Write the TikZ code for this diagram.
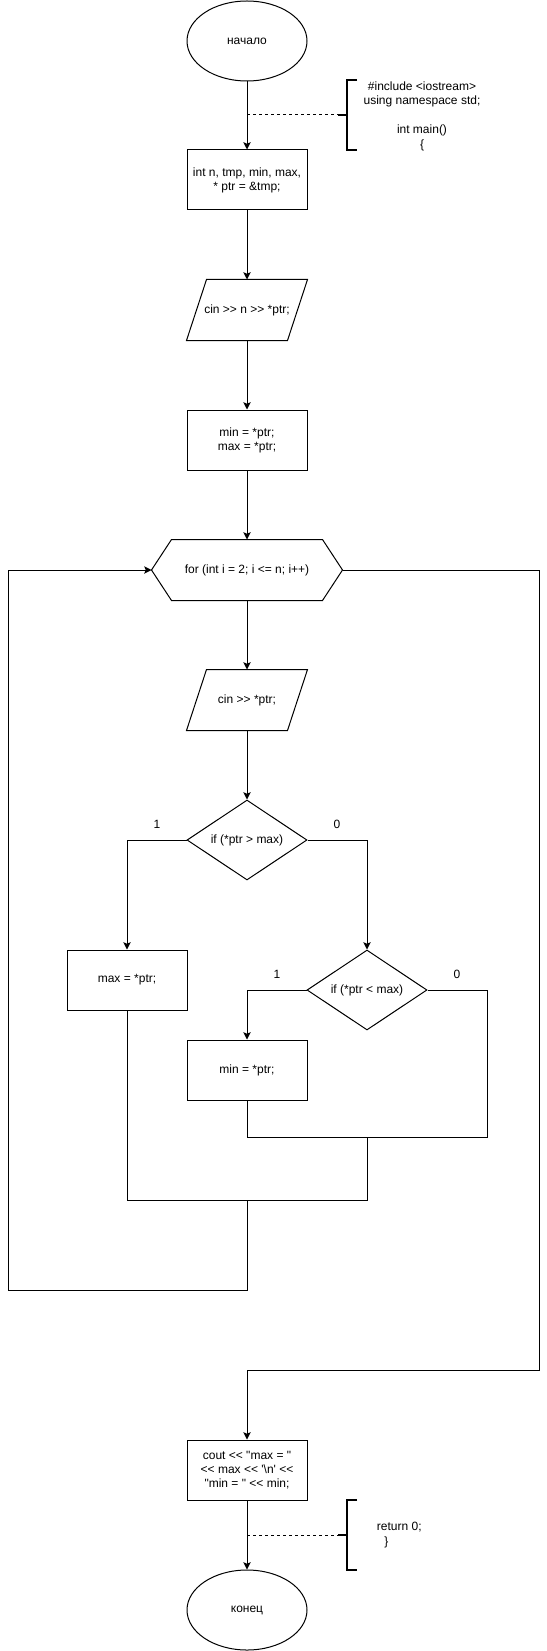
\documentclass[tikz,border=0pt]{standalone}
\usepackage{fontspec}
\setmainfont{Liberation Sans}[Ligatures=TeXOff]
\usetikzlibrary{shapes.geometric,arrows.meta,calc}
\begin{document}
\begin{tikzpicture}[x=0.75pt,y=-0.75pt, line width=0.75pt,
  every node/.style={font=\fontsize{9}{10.5}\selectfont},
  proc/.style={draw, rectangle, minimum width=90pt, minimum height=45pt, inner sep=1pt, align=center},
  ghost/.style={rectangle, minimum width=90pt, minimum height=45pt, inner sep=1pt, align=center},
  hexa/.style={rectangle, minimum width=142.5pt, minimum height=45pt, inner sep=1pt},
  term/.style={draw, ellipse, minimum width=90pt, minimum height=60pt, inner sep=0pt},
  dec/.style={draw, diamond, aspect=1.5, minimum width=90pt, minimum height=60pt, inner sep=0pt},
  arr/.style={-{Stealth[length=5.5pt,width=5.5pt,inset=1.2pt]}},
  brk/.style={line width=1.5pt},
  dsh/.style={dash pattern=on 2.25pt off 2.25pt},
  note/.style={align=center, font=\fontsize{9}{10.9}\selectfont},
  lbl/.style={font=\fontsize{9}{10.5}\selectfont}]
\useasboundingbox (0,0) rectangle (546,1651);

% nodes
\node[term] (start) at (247,41) {начало};
\node[proc] (b1) at (247,180) {int n, tmp, min, max,\\ * ptr = \&tmp;};
\node[ghost] (p1) at (247,310) {cin >> n >> *ptr;};
\draw ($(p1.north west)+(20,0)$) -- (p1.north east) -- ($(p1.south east)+(-20,0)$) -- (p1.south west) -- cycle;
\node[proc] (b2) at (247,440) {min = *ptr;\\ max = *ptr;};
\node[hexa] (hex) at (247,570) {for (int i = 2; i <= n; i++)};
\draw (hex.west) -- ($(hex.north west)+(20,0)$) -- ($(hex.north east)+(-20,0)$) -- (hex.east) -- ($(hex.south east)+(-20,0)$) -- ($(hex.south west)+(20,0)$) -- cycle;
\node[ghost] (p2) at (247,700) {cin >> *ptr;};
\draw ($(p2.north west)+(20,0)$) -- (p2.north east) -- ($(p2.south east)+(-20,0)$) -- (p2.south west) -- cycle;
\node[dec] (d1) at (247,840) {if (*ptr > max)};
\node[proc] (bmax) at (127,980) {max = *ptr;};
\node[dec] (d2) at (367,990) {if (*ptr < max)};
\node[proc] (bmin) at (247,1070) {min = *ptr;};
\node[proc] (bout) at (247,1470) {cout << "max = "\\ << max << '\textbackslash n' <<\\ "min = " << min;};
\node[term] (end) at (247,1610) {конец};

% labels
\node[lbl] (l1) at (157,824) {1};
\node[lbl] (l0) at (337,824) {0};
\node[lbl] (l2) at (277,974) {1};
\node[lbl] (l3) at (457,974) {0};

% notes
\node[note] (n1) at (422,116) {\#include <iostream>\\ using namespace std;\\ ~\\ int main()\\ \{};
\node[note, align=left, anchor=west] (n2) at (372,1535) {return 0;\\ \hspace{5.5pt}\}};
\draw[brk] (357,80) -- (347,80) -- (347,150) -- (357,150);
\draw[brk] (338,115) -- (347,115);
\draw[brk] (357,1500) -- (347,1500) -- (347,1570) -- (357,1570);
\draw[brk] (338,1535) -- (347,1535);

% coordinates
\coordinate (dj1) at (247,115);
\coordinate (bk1) at (338,115);
\coordinate (dj2) at (247,1535);
\coordinate (bk2) at (338,1535);
\coordinate (m1r) at (487,1137);
\coordinate (m1) at (247,1137);
\coordinate (m1c) at (367,1137);
\coordinate (m2r) at (367,1200);
\coordinate (m2l) at (127,1200);
\coordinate (m2c) at (247,1200);
\coordinate (lb) at (247,1290);
\coordinate (lbl) at (8,1290);
\coordinate (rb) at (539,1370);

% connectors
\draw[arr] (start) -- (b1);
\draw[arr] (b1) -- (p1);
\draw[arr] (p1) -- (b2);
\draw[arr] (b2) -- (hex);
\draw[arr] (hex) -- (p2);
\draw[arr] (p2) -- (d1);
\draw[arr] (d1.west) -| (bmax.north);
\draw[arr] (d1.east) -| (d2.north);
\draw[arr] (d2.west) -| (bmin.north);
\draw (d2.east) -| (m1r) -- (m1);
\draw (bmin.south) -- (m1);
\draw (m1c) -- (m2r) -- (m2l) -- (bmax.south);
\draw[arr] (m2c) -- (lb) -- (lbl) |- (hex.west);
\draw[arr] (hex.east) -| (rb) -| (bout.north);
\draw[arr] (bout) -- (end);
\draw[dsh] (dj1) -- (bk1);
\draw[dsh] (dj2) -- (bk2);
\end{tikzpicture}
\end{document}
